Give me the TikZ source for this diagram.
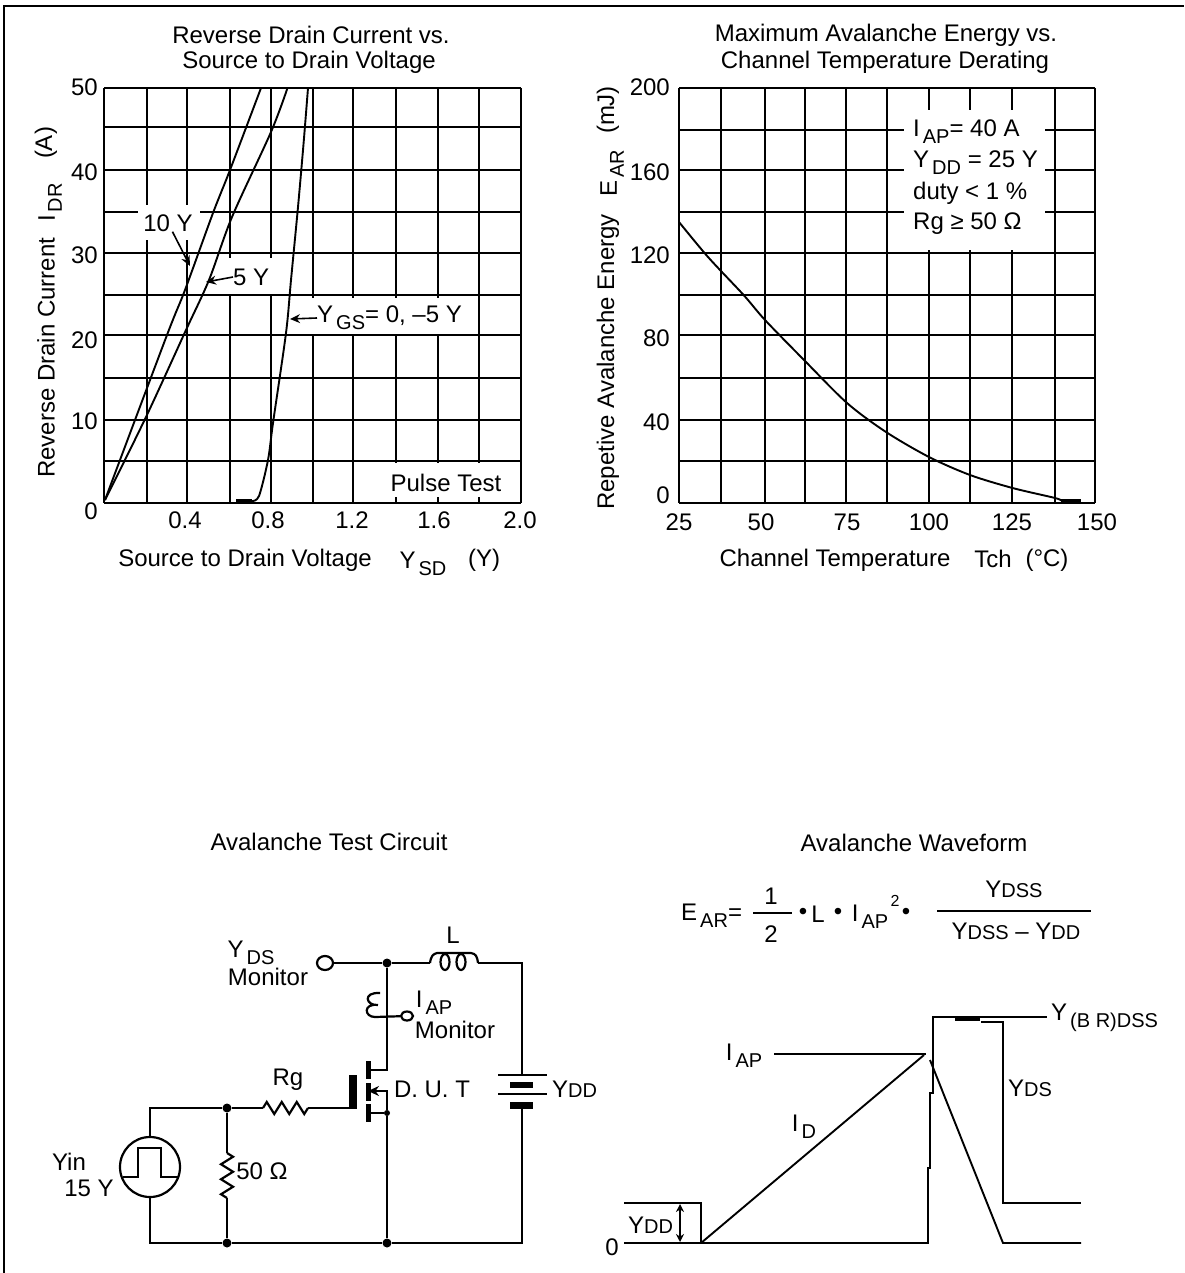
\documentclass[tikz,border=0pt]{standalone}
\usepackage{fontspec}
\setmainfont{Liberation Sans}
\usetikzlibrary{arrows.meta}
\usetikzlibrary{decorations.pathmorphing}
\usetikzlibrary{shapes.geometric}
\tikzset{
    txt/.style={font=\fontsize{24}{28}\selectfont, inner sep=0pt},
    gridline/.style={line width=2.4pt},
    curve/.style={line width=1.9pt},
    wire/.style={line width=2.2pt},
    ptr/.style={line width=1.6pt, -{Stealth[length=10pt,width=9pt]}},
    jdot/.style={circle, fill=black, inner sep=0pt, minimum size=9pt},
    term/.style={ellipse, draw, line width=2.2pt, fill=white, inner sep=0pt},
    zig/.style={wire, decorate, decoration={zigzag, segment length=15pt, amplitude=6pt}}
}
\newcommand {\gridv}[1] {\draw[gridline] (#1,88) -- (#1,503);}
\newcommand {\gridh}[3] {\draw[gridline] (#1,#3) -- (#2,#3);}
\newcommand {\blank}[4] {\fill[white] (#1,#2) rectangle (#3,#4);}
\newcommand {\lbl}[3] {\node[txt] (#1) at (#2) {#3};}
\newcommand {\lblr}[3] {\node[txt, anchor=east] (#1) at (#2) {#3};}
\newcommand {\lbll}[3] {\node[txt, anchor=west] (#1) at (#2) {#3};}
\newcommand {\subt}[1] {\hspace{3pt}\raisebox{-7pt}{\fontsize{20}{20}\selectfont #1}}
\newcommand {\smt}[1] {{\fontsize{20}{20}\selectfont #1}}

\begin{document}
\begin{tikzpicture}[x=1pt, y=-1pt]
    \useasboundingbox (0,0) rectangle (1184,1273);
    \draw[line width=2pt] (3.5,1273) -- (3.5,6) -- (1184,6);

    % left chart
    \gridv{104} \gridv{147} \gridv{187} \gridv{230} \gridv{271} \gridv{313}
    \gridv{353} \gridv{396} \gridv{438} \gridv{479} \gridv{521}
    \gridh{104}{521}{88}  \gridh{104}{521}{127} \gridh{104}{521}{170}
    \gridh{104}{521}{212} \gridh{104}{521}{253} \gridh{104}{521}{295}
    \gridh{104}{521}{335} \gridh{104}{521}{378} \gridh{104}{521}{420}
    \gridh{104}{521}{461} \gridh{104}{521}{503}
    \blank{138}{205}{200}{240}
    \blank{215}{258}{291}{293.5}
    \blank{300}{298}{470}{333.5}
    \blank{388}{463}{490}{497}
    \draw[curve] plot[smooth] coordinates {(105,500) (167,335) (185,290) (213,213) (230,170) (261,88)};
    \draw[curve] plot[smooth] coordinates {(105,500) (146,417) (186,330) (209,280) (232,217) (271,132) (287.5,88)};
    \draw[curve] plot[smooth] coordinates {(252,501) (259,496) (268,460) (273,423) (286,333) (291,280) (298,207) (303.6,143) (308,88)};
    \draw[line width=3.5pt] (236,501) -- (252,501);

    \lbl{titleA}{311,35}{Reverse Drain Current vs.}
    \lbl{titleB}{309,62}{Source to Drain Voltage}
    \lblr{ya}{98,87}{50} \lblr{yb}{98,172}{40} \lblr{yc}{98,255}{30}
    \lblr{yd}{98,340}{20} \lblr{ye}{98,421}{10} \lblr{yf}{98,511}{0}
    \lbl{xa}{185,520}{0.4} \lbl{xb}{268,520}{0.8} \lbl{xc}{352,520}{1.2}
    \lbl{xd}{434,520}{1.6} \lbl{xe}{520,520}{2.0}
    \lbl{xlabA}{245,560}{Source to Drain Voltage}
    \lbl{xlabB}{423,564}{Y\subt{SD}}
    \lbl{xlabC}{484,560}{(Y)}
    \node[txt, rotate=90, anchor=west] (ylabA) at (46,478) {Reverse Drain Current};
    \node[txt, rotate=90, anchor=west] (ylabB) at (50,222) {I\subt{DR}};
    \node[txt, rotate=90] (ylabC) at (46,143) {(A)};

    \lbl{vten}{168,223}{10 Y}
    \lbll{vfive}{233,277}{5 Y}
    \lbll{vgs}{317,318}{Y\subt{GS}= 0, --5 Y}
    \lbl{pulse}{446,483}{Pulse Test}
    \coordinate (tipten) at (190,266);
    \coordinate (tipfive) at (206,282);
    \coordinate (tipgs) at (290,319);
    \draw[ptr] (vten) -- (tipten);
    \draw[ptr] (vfive.west) -- (tipfive);
    \draw[ptr] (vgs.west) -- (tipgs);

    % right chart
    \gridv{679} \gridv{721} \gridv{765} \gridv{805} \gridv{846} \gridv{887}
    \gridv{929} \gridv{970} \gridv{1012} \gridv{1055} \gridv{1095}
    \gridh{679}{1095}{88}  \gridh{679}{1095}{130} \gridh{679}{1095}{170}
    \gridh{679}{1095}{212} \gridh{679}{1095}{253} \gridh{679}{1095}{295}
    \gridh{679}{1095}{335} \gridh{679}{1095}{378} \gridh{679}{1095}{420}
    \gridh{679}{1095}{461} \gridh{679}{1095}{503}
    \blank{904}{110}{1045}{250}
    \draw[curve] plot[smooth] coordinates {(679,222) (708,257) (743.6,295) (765,320) (804,360) (847,403) (886,432) (929,457) (970,475) (1012.5,488) (1055,498) (1062,501)};
    \draw[line width=3.5pt] (1061,501) -- (1081,501);

    \lbl{titleC}{886,35}{Maximum Avalanche Energy vs.}
    \lbl{titleD}{885,62}{Channel Temperature Derating}
    \lblr{yg}{670,87}{200} \lblr{yh}{670,172}{160} \lblr{yi}{670,255}{120}
    \lblr{yj}{670,338}{80} \lblr{yk}{670,422}{40} \lblr{yl}{670,495}{0}
    \lbl{xf}{679,522}{25} \lbl{xg}{761,522}{50} \lbl{xh}{847,522}{75}
    \lbl{xi}{929,522}{100} \lbl{xj}{1012,522}{125} \lbl{xk}{1097,522}{150}
    \lbl{xlabD}{835,560}{Channel Temperature}
    \lbl{xlabE}{993,559}{Tch}
    \lbl{xlabF}{1047,560}{(°C)}
    \node[txt, rotate=90, anchor=west] (ylabD) at (608,510) {Repetive Avalanche Energy};
    \node[txt, rotate=90, anchor=west] (ylabE) at (612,197) {E\subt{AR}};
    \node[txt, rotate=90] (ylabF) at (608,110) {(mJ)};
    \lbll{condA}{913,132}{I\subt{AP}= 40 A}
    \lbll{condB}{913,163}{Y\subt{DD} = 25 Y}
    \lbll{condC}{913,193}{duty < 1 \%}
    \lbll{condD}{913,224}{Rg ≥ 50 Ω}

    % test circuit
    \lbl{titleE}{329,842}{Avalanche Test Circuit}
    \node[circle, draw, wire, minimum size=60pt, inner sep=0pt] (vin) at (150,1167) {};
    \node[jdot] (jgate) at (227,1108) {};
    \node[jdot] (jbotl) at (227,1243) {};
    \node[jdot] (jbotr) at (387,1243) {};
    \node[jdot] (jtop) at (387,963) {};
    \node[jdot, minimum size=6pt] (jsrc) at (387,1113) {};
    \node[term, minimum width=16pt, minimum height=14pt] (tvds) at (325,963) {};
    \node[term, minimum width=12pt, minimum height=9pt] (tiap) at (407,1016) {};
    \coordinate (rga) at (263,1108);
    \coordinate (rgb) at (308,1108);
    \coordinate (gate) at (350,1108);
    \coordinate (rsa) at (227,1153);
    \coordinate (rsb) at (227,1198);
    \coordinate (inda) at (430,963);
    \coordinate (indb) at (478,963);
    \coordinate (cor) at (522,963);
    \coordinate (batt) at (522,1075);
    \coordinate (battb) at (522,1107);
    \coordinate (corb) at (522,1243);
    \coordinate (drain) at (368,1070);
    \coordinate (mid) at (368,1091);
    \coordinate (srcp) at (368,1113);
    \draw[wire] (vin.north) |- (jgate);
    \draw[wire] (vin.south) |- (jbotl);
    \draw[wire] (jgate) -- (rga);
    \draw[wire] (rgb) -- (gate);
    \draw[zig] (rga) -- (rgb);
    \draw[wire] (jgate) -- (rsa);
    \draw[zig] (rsa) -- (rsb);
    \draw[wire] (rsb) -- (jbotl);
    \draw[wire] (jbotl) -- (jbotr) -- (corb) -- (battb);
    \draw[wire] (tvds) -- (jtop) -- (inda);
    \draw[wire] (indb) -- (cor) -- (batt);
    \draw[wire] (jtop) |- (drain);
    \draw[wire] (jbotr) -- (jsrc) -- (srcp);
    \draw[wire, -{Stealth[length=11pt,width=10pt]}] (jsrc) |- (mid);
    \draw[wire] (tiap) -- (375,1017) .. controls (364,1017) and (363,1003) .. (378,1005) .. controls (366,1006) and (362,992) .. (380,993);
    \draw[wire] (inda) .. controls (431,956) and (433,954) .. (437,953) -- (471,953) .. controls (476,954) and (477,956) .. (indb);
    \draw[wire] (445,962) ellipse (4.5 and 8);
    \draw[wire] (461,962) ellipse (4.5 and 8);
    \draw[line width=8pt] (353,1075) -- (353,1109);
    \draw[line width=5pt] (368,1061) -- (368,1079);
    \draw[line width=5pt] (368,1083) -- (368,1101);
    \draw[line width=5pt] (368,1104) -- (368,1122);
    \draw[wire] (498,1075) -- (547,1075);
    \draw[line width=6pt] (510,1085) -- (533,1085);
    \draw[wire] (498,1094) -- (547,1094);
    \draw[line width=7pt] (510,1105) -- (533,1105);
    \draw[wire, line join=miter] (123,1177) -- (138,1177) -- (138,1148) -- (161,1148) -- (161,1177) -- (178,1177);

    \lbl{vdsa}{251,953}{Y\subt{DS}}
    \lbl{vdsb}{268,977}{Monitor}
    \lbl{ell}{453,935}{L}
    \lbl{iapa}{434,1003}{I\subt{AP}}
    \lbl{iapb}{455,1030}{Monitor}
    \lbl{dut}{432,1089}{D. U. T}
    \lbll{vdda}{552,1089}{Y\smt{DD}}
    \lbl{rg}{288,1080}{Rg}
    \lbl{vina}{69,1162}{Yin}
    \lbl{vinb}{89,1188}{15 Y}
    \lbl{res}{262,1171}{50 Ω}

    % waveform
    \lbl{titleF}{914,843}{Avalanche Waveform}
    \lbll{eqa}{681,916}{E\subt{AR}=}
    \lbl{eqb}{771,896}{1}
    \lbl{eqc}{771,934}{2}
    \draw[wire] (753,913) -- (792,913);
    \lbl{eqd}{803,914}{•}
    \lbl{eqe}{818,914}{L}
    \lbl{eqf}{838,914}{•}
    \lbl{eqg}{870,917}{I\subt{AP}}
    \node[inner sep=0pt, font=\fontsize{16}{16}\selectfont] (eqh) at (895,901) {2};
    \lbl{eqi}{906,914}{•}
    \draw[wire] (937,911) -- (1091,911);
    \lbl{eqj}{1014,889}{Y\smt{DSS}}
    \lbl{eqk}{1016,931}{Y\smt{DSS} -- Y\smt{DD}}

    \draw[wire] (624,1203) -- (701,1203) -- (701,1243);
    \draw[wire] (624,1243) -- (928,1243) -- (928,1168) -- (930,1168) -- (930,1093) -- (933,1093) -- (933,1017) -- (1047,1017);
    \draw[wire] (981,1022) -- (1003,1022) -- (1003,1203) -- (1081,1203);
    \draw[line width=3.5pt] (955,1019) -- (980,1019);
    \draw[curve] (701,1243) -- (924,1055);
    \draw[curve] (930,1060) -- (1003,1243) -- (1081,1243);
    \draw[wire] (774,1054) -- (926,1054);
    \draw[line width=1.6pt, {Stealth[length=8pt,width=8pt]}-{Stealth[length=8pt,width=8pt]}] (680,1204) -- (680,1242);

    \lbll{vbr}{1051,1018}{Y\subt{(B R)DSS}}
    \lbl{iapc}{744,1056}{I\subt{AP}}
    \lbl{vdsc}{1030,1088}{Y\smt{DS}}
    \lbl{idc}{804,1127}{I\subt{D}}
    \lbll{vddb}{628,1225}{Y\smt{DD}}
    \lbl{zero}{612,1247}{0}
\end{tikzpicture}
\end{document}
